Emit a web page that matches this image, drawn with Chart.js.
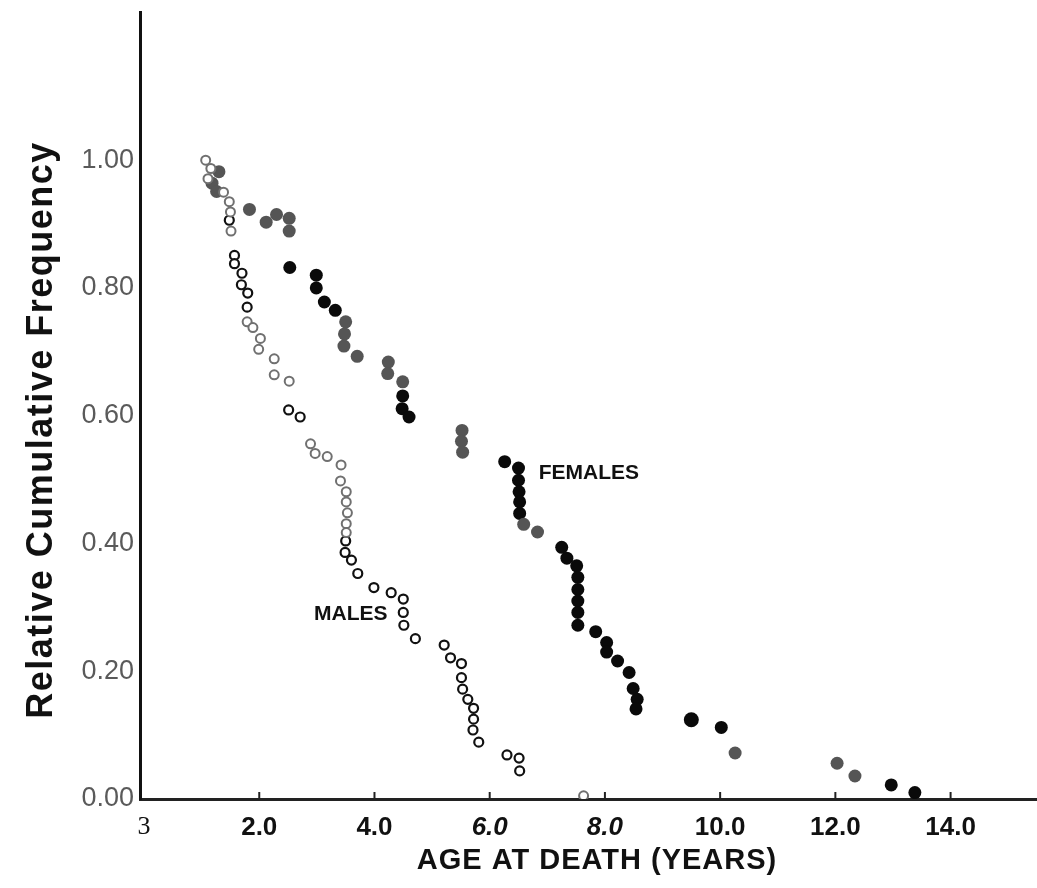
<!DOCTYPE html>
<html>
<head>
<meta charset="utf-8">
<script src="https://cdn.jsdelivr.net/npm/chart.js@4/dist/chart.umd.min.js"></script>
<style>
  html, body { margin: 0; padding: 0; background: #fff; overflow: hidden; }
  #wrap { width: 1037px; height: 888px; }
  #chart { display: block; }
</style>
</head>
<body>
<div id="wrap"><canvas id="chart" width="1037" height="888"></canvas></div>
<script>
// Age at death (years) and relative cumulative frequency
// Females, black dots
const femBlackAge = [2.53, 2.99, 2.99, 3.13, 3.32, 4.49, 4.48, 4.60, 6.26, 6.50, 6.50, 6.51, 6.52, 6.52,
    7.25, 7.34, 7.51, 7.53, 7.53, 7.53, 7.53, 7.53, 7.84, 8.03, 8.03, 8.22, 8.42, 8.49, 8.56, 8.54,
    9.50, 10.02, 12.97, 13.38];
const femBlackFreq = [0.832, 0.820, 0.800, 0.778, 0.765, 0.631, 0.611, 0.598, 0.528, 0.518, 0.499, 0.481, 0.465, 0.447,
    0.394, 0.377, 0.365, 0.347, 0.328, 0.310, 0.292, 0.272, 0.262, 0.245, 0.230, 0.216, 0.198, 0.173, 0.156, 0.141,
    0.124, 0.112, 0.022, 0.010];

// Females, grey dots
const femGreyAge = [1.30, 1.18, 1.26, 1.83, 2.12, 2.30, 2.52, 2.52, 3.50, 3.48, 3.47, 3.70, 4.24, 4.23, 4.49,
    5.52, 5.51, 5.53, 6.59, 6.83, 10.26, 12.03, 12.34];
const femGreyFreq = [0.982, 0.964, 0.951, 0.923, 0.903, 0.915, 0.909, 0.889, 0.747, 0.728, 0.709, 0.693, 0.684, 0.666, 0.653,
    0.577, 0.560, 0.543, 0.430, 0.418, 0.072, 0.056, 0.036];

// Males, black rings
const maleBlackAge = [1.48, 1.57, 1.57, 1.70, 1.69, 1.80, 1.79, 2.51, 2.71, 3.50, 3.49, 3.60, 3.71, 3.99, 4.29,
    4.50, 4.50, 4.51, 4.71, 5.21, 5.32, 5.51, 5.51, 5.53, 5.62, 5.72, 5.72, 5.71, 5.81, 6.30, 6.51, 6.52];
const maleBlackFreq = [0.906, 0.851, 0.838, 0.823, 0.805, 0.792, 0.770, 0.609, 0.598, 0.404, 0.386, 0.374, 0.353, 0.331, 0.323,
    0.313, 0.292, 0.272, 0.251, 0.241, 0.221, 0.212, 0.190, 0.172, 0.156, 0.142, 0.125, 0.108, 0.089, 0.069, 0.064, 0.044];

// Males, grey rings
const maleGreyAge = [1.07, 1.16, 1.11, 1.38, 1.48, 1.50, 1.51, 1.79, 1.89, 2.02, 1.99, 2.26, 2.26, 2.52,
    2.89, 2.97, 3.18, 3.42, 3.41, 3.51, 3.51, 3.53, 3.51, 3.51, 7.63];
const maleGreyFreq = [1.000, 0.987, 0.971, 0.950, 0.935, 0.919, 0.889, 0.747, 0.738, 0.721, 0.704, 0.689, 0.664, 0.654,
    0.556, 0.541, 0.536, 0.523, 0.498, 0.481, 0.465, 0.448, 0.431, 0.417, 0.005];

const xTicks = [0, 2, 4, 6, 8, 10, 12, 14];
const yTicks = [0, 0.2, 0.4, 0.6, 0.8, 1.0];

function toPoints(xs, ys) {
    return xs.map((x, i) => ({ x: x, y: ys[i] }));
}

// Titles, group labels and the small inward tick marks
const decorPlugin = {
    id: 'decor',
    afterDraw(chart) {
        const ctx = chart.ctx;
        const xs = chart.scales.x;
        const ys = chart.scales.y;
        ctx.save();

        // tick marks pointing up into the plot
        ctx.strokeStyle = '#222';
        ctx.lineWidth = 2;
        xTicks.slice(1).forEach(v => {
            const px = xs.getPixelForValue(v);
            ctx.beginPath();
            ctx.moveTo(px, ys.bottom);
            ctx.lineTo(px, ys.bottom - 7);
            ctx.stroke();
        });

        ctx.fillStyle = '#111';
        ctx.textBaseline = 'middle';

        // group labels
        ctx.font = 'bold 21px "Liberation Sans", Arial, sans-serif';
        ctx.textAlign = 'left';
        ctx.fillText('FEMALES', xs.getPixelForValue(6.85), ys.getPixelForValue(0.51));
        ctx.fillText('MALES', xs.getPixelForValue(2.95), ys.getPixelForValue(0.29));

        // x axis title
        ctx.textAlign = 'center';
        ctx.font = 'bold 29px "Liberation Sans", Arial, sans-serif';
        ctx.letterSpacing = '1px';
        ctx.fillText('AGE AT DEATH (YEARS)', 597, 861);

        // y axis title
        ctx.translate(42, 430);
        ctx.rotate(-Math.PI / 2);
        ctx.font = 'bold 36px "Liberation Sans", Arial, sans-serif';
        ctx.letterSpacing = '1.5px';
        ctx.fillText('Relative Cumulative Frequency', 0, 0);

        ctx.restore();
    }
};

const ctx = document.getElementById('chart').getContext('2d');
const chart = new Chart(ctx, {
    type: 'scatter',
    data: {
        datasets: [
            {
                label: 'Males (grey)',
                data: toPoints(maleGreyAge, maleGreyFreq),
                pointRadius: 4.5,
                pointBorderWidth: 2,
                borderColor: '#707070',
                backgroundColor: '#ffffff'
            },
            {
                label: 'Males (black)',
                data: toPoints(maleBlackAge, maleBlackFreq),
                pointRadius: 4.5,
                pointBorderWidth: 2.2,
                borderColor: '#111111',
                backgroundColor: '#ffffff'
            },
            {
                label: 'Females (grey)',
                data: toPoints(femGreyAge, femGreyFreq),
                pointRadius: 6.5,
                pointBorderWidth: 0,
                borderColor: '#555555',
                backgroundColor: '#555555'
            },
            {
                label: 'Females (black)',
                data: toPoints(femBlackAge, femBlackFreq),
                pointRadius: ctx => (ctx.raw && ctx.raw.x === 9.50 ? 7.5 : 6.5),
                pointBorderWidth: 0,
                borderColor: '#0a0a0a',
                backgroundColor: '#0a0a0a'
            }
        ]
    },
    options: {
        responsive: false,
        devicePixelRatio: 1,
        animation: false,
        layout: { autoPadding: false, padding: { top: 12, right: 0, bottom: 0, left: 0 } },
        plugins: {
            legend: { display: false },
            tooltip: { enabled: false }
        },
        scales: {
            x: {
                type: 'linear',
                min: -0.07,
                max: 15.5,
                afterFit(scale) {
                    scale.height = 89;
                    scale.paddingLeft = 0;
                    scale.paddingRight = 0;
                },
                afterBuildTicks(scale) { scale.ticks = xTicks.map(v => ({ value: v })); },
                grid: { display: false, drawTicks: false },
                border: { display: true, color: '#222', width: 3 },
                ticks: {
                    padding: 13,
                    color: '#111',
                    autoSkip: false,
                    maxRotation: 0,
                    callback: v => (v === 0 ? '3' : v.toFixed(1)),
                    font: c => {
                        const v = c.tick ? c.tick.value : null;
                        if (v === 0) return { family: '"Liberation Serif", serif', size: 26 };
                        return {
                            family: '"Liberation Sans", Arial, sans-serif',
                            size: 26,
                            weight: 'bold',
                            style: (v === 6 || v === 8) ? 'italic' : 'normal'
                        };
                    }
                }
            },
            y: {
                type: 'linear',
                min: 0,
                max: 1.232,
                afterFit(scale) {
                    scale.width = 140;
                    scale.paddingTop = 0;
                    scale.paddingBottom = 0;
                },
                afterBuildTicks(scale) { scale.ticks = yTicks.map(v => ({ value: v })); },
                grid: { display: false, drawTicks: false },
                border: { display: true, color: '#111', width: 3 },
                ticks: {
                    padding: 6,
                    color: '#5a5a5a',
                    callback: v => v.toFixed(2),
                    font: { family: '"Liberation Sans", Arial, sans-serif', size: 27 }
                }
            }
        }
    },
    plugins: [decorPlugin]
});
</script>
</body>
</html>
